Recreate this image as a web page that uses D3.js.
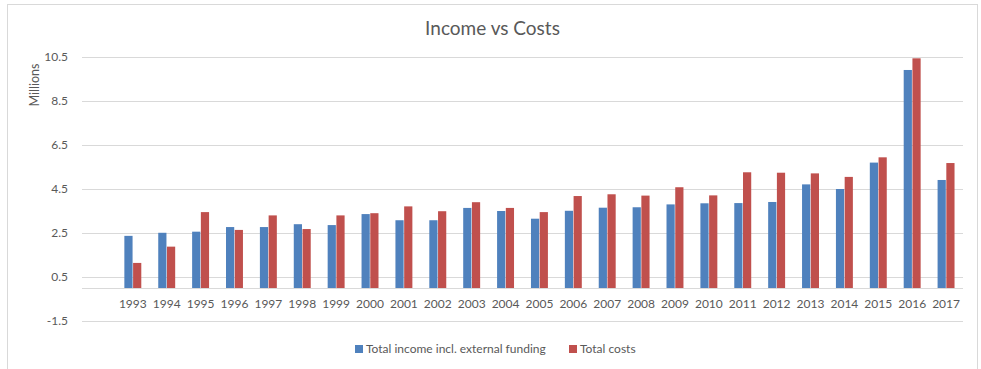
<!DOCTYPE html>
<html>
<head>
<meta charset="utf-8">
<script src="https://cdn.jsdelivr.net/npm/d3@7"></script>
<style>
  body { margin: 0; background: #fff; }
  svg { display: block; font-family: Lato, "Open Sans", sans-serif; }
</style>
</head>
<body>
<script>
const years = [
    "1993", "1994", "1995", "1996", "1997", "1998", "1999", "2000", "2001",
    "2002", "2003", "2004", "2005", "2006", "2007", "2008", "2009", "2010",
    "2011", "2012", "2013", "2014", "2015", "2016", "2017"
];
const income = [
    2.37, 2.51, 2.56, 2.77, 2.77, 2.9, 2.86, 3.36, 3.08,
    3.08, 3.64, 3.5, 3.15, 3.51, 3.65, 3.67, 3.8, 3.85,
    3.86, 3.91, 4.71, 4.5, 5.7, 9.91, 4.91
];
const costs = [
    1.14, 1.88, 3.45, 2.64, 3.3, 2.68, 3.3, 3.4, 3.71,
    3.49, 3.9, 3.64, 3.45, 4.18, 4.26, 4.2, 4.58, 4.21,
    5.26, 5.24, 5.21, 5.05, 5.94, 10.44, 5.68
];
const seriesNames = ["Total income incl. external funding", "Total costs"];
const seriesColors = ["#4F81BD", "#C0504D"];
const yTicks = [-1.5, 0.5, 2.5, 4.5, 6.5, 8.5, 10.5];

const width = 981;
const height = 369;
const plot = { left: 82, right: 963, top: 57, bottom: 321 };
const textColor = "#595959";
const gridColor = "#d9d9d9";

const svg = d3.select("body")
    .append("svg")
    .attr("width", width)
    .attr("height", height);

// chart frame
svg.append("rect")
    .attr("x", 7.5)
    .attr("y", 4.5)
    .attr("width", 970)
    .attr("height", 380)
    .attr("fill", "#fff")
    .attr("stroke", gridColor);

svg.append("text")
    .attr("x", 7.5 + 970 / 2)
    .attr("y", 35)
    .attr("text-anchor", "middle")
    .attr("fill", textColor)
    .style("font-size", "19px")
    .text("Income vs Costs");

const scaleY = d3.scaleLinear()
    .domain([-1.5, 10.5])
    .range([plot.bottom, plot.top]);

// first slot of the category axis is empty
const step = (plot.right - plot.left) / (years.length + 1);
const scaleX = d3.scaleBand()
    .domain(years)
    .range([plot.left + step, plot.right])
    .paddingInner(0.5)
    .paddingOuter(0.25);

const scaleSeries = d3.scaleBand()
    .domain([0, 1])
    .range([0, scaleX.bandwidth()])
    .paddingInner(0.06);

const grid = svg.append("g");
grid.selectAll("line")
    .data(yTicks)
    .enter()
    .append("line")
    .attr("x1", plot.left)
    .attr("x2", plot.right)
    .attr("y1", d => Math.round(scaleY(d)) + 0.5)
    .attr("y2", d => Math.round(scaleY(d)) + 0.5)
    .attr("stroke", gridColor);

grid.selectAll("text")
    .data(yTicks)
    .enter()
    .append("text")
    .attr("x", 68)
    .attr("y", d => scaleY(d))
    .attr("dy", "0.35em")
    .attr("text-anchor", "end")
    .attr("fill", textColor)
    .style("font-size", "12px")
    .text(d => d.toFixed(1));

svg.append("text")
    .attr("transform", "rotate(-90)")
    .attr("x", -85)
    .attr("y", 39)
    .attr("text-anchor", "middle")
    .attr("fill", textColor)
    .style("font-size", "12.5px")
    .text("Millions");

const rows = years.map((y, i) => ({ year: y, values: [income[i], costs[i]] }));

const groups = svg.append("g")
    .selectAll("g")
    .data(rows)
    .enter()
    .append("g")
    .attr("transform", d => `translate(${scaleX(d.year)},0)`);

groups.selectAll("rect")
    .data(d => d.values.map((v, k) => ({ k: k, v: v })))
    .enter()
    .append("rect")
    .attr("x", d => scaleSeries(d.k))
    .attr("y", d => scaleY(d.v))
    .attr("width", scaleSeries.bandwidth())
    .attr("height", d => scaleY(0) - scaleY(d.v))
    .attr("fill", d => seriesColors[d.k]);

// category axis crosses at zero
const xAxis = svg.append("g")
    .attr("transform", `translate(0,${Math.round(scaleY(0)) + 0.5})`);
xAxis.append("line")
    .attr("x1", plot.left)
    .attr("x2", plot.right)
    .attr("stroke", gridColor);
xAxis.selectAll("text")
    .data(years)
    .enter()
    .append("text")
    .attr("x", d => scaleX(d) + scaleX.bandwidth() / 2)
    .attr("y", 19)
    .attr("text-anchor", "middle")
    .attr("fill", textColor)
    .style("font-size", "12px")
    .text(d => d);

const legend = svg.append("g")
    .attr("transform", "translate(355,349)");
const legendX = [0, 214];
legend.selectAll("rect")
    .data(seriesColors)
    .enter()
    .append("rect")
    .attr("x", (d, i) => legendX[i])
    .attr("y", -4)
    .attr("width", 8)
    .attr("height", 8)
    .attr("fill", d => d);
legend.selectAll("text")
    .data(seriesNames)
    .enter()
    .append("text")
    .attr("x", (d, i) => legendX[i] + 11)
    .attr("y", 0)
    .attr("dy", "0.35em")
    .attr("fill", textColor)
    .style("font-size", "12px")
    .text(d => d);
</script>
</body>
</html>
